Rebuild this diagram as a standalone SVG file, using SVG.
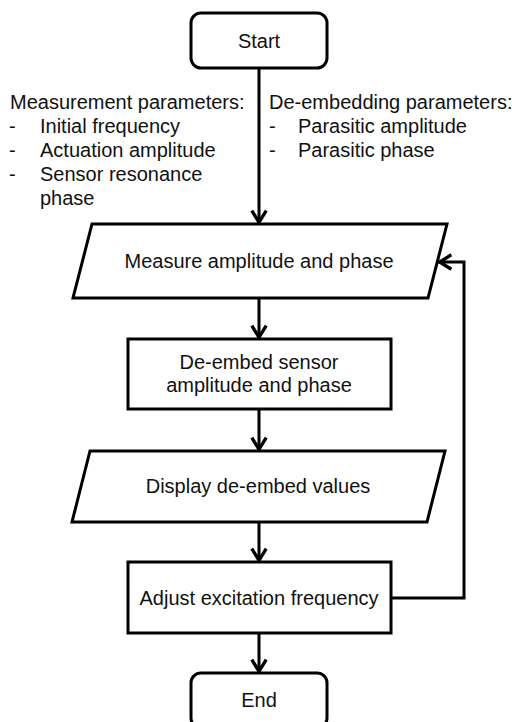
<svg xmlns="http://www.w3.org/2000/svg" width="512" height="722" viewBox="0 0 512 722">
<defs>
<style>
.shape{fill:#fff;stroke:#000;stroke-width:3;stroke-linejoin:miter}
.t{font-family:"Liberation Sans",Arial,sans-serif;font-size:20px;fill:#111}
.c{text-anchor:middle}
.conn{fill:none;stroke:#000;stroke-width:3}
</style>
<marker id="arr" markerUnits="userSpaceOnUse" markerWidth="20" markerHeight="20" viewBox="-14 -9 16 18" refX="0" refY="0" orient="auto">
<path d="M-12,-6.5 L-1.5,0 L-12,6.5" fill="none" stroke="#000" stroke-width="3"/>
</marker>
</defs>
<rect width="512" height="722" fill="#fff"/>

<g id="connectors">
<line class="conn" x1="259" y1="68" x2="259" y2="224" marker-end="url(#arr)"/>
<line class="conn" x1="259" y1="298" x2="259" y2="339" marker-end="url(#arr)"/>
<line class="conn" x1="259" y1="409" x2="259" y2="451" marker-end="url(#arr)"/>
<line class="conn" x1="259" y1="522" x2="259" y2="562" marker-end="url(#arr)"/>
<line class="conn" x1="259" y1="633" x2="259" y2="673" marker-end="url(#arr)"/>
<polyline class="conn" points="391,598 464,598 464,262 438,262" marker-end="url(#arr)"/>
</g>

<g id="params-measurement">
<text class="t" x="10" y="109">Measurement parameters:</text>
<text class="t" x="9" y="133">-</text><text class="t" x="40" y="133">Initial frequency</text>
<text class="t" x="9" y="157">-</text><text class="t" x="40" y="157">Actuation amplitude</text>
<text class="t" x="9" y="181">-</text><text class="t" x="40" y="181">Sensor resonance</text>
<text class="t" x="40" y="205">phase</text>
</g>

<g id="params-deembedding">
<text class="t" x="269" y="109">De-embedding parameters:</text>
<text class="t" x="269" y="133">-</text><text class="t" x="298" y="133">Parasitic amplitude</text>
<text class="t" x="269" y="157">-</text><text class="t" x="298" y="157">Parasitic phase</text>
</g>

<g id="start">
<rect class="shape" x="191" y="13" width="136" height="55" rx="10"/>
<text class="t c" x="259" y="47.5">Start</text>
</g>

<g id="measure">
<polygon class="shape" points="92,224 447,224 428,298 73,298"/>
<text class="t c" x="259" y="268">Measure amplitude and phase</text>
</g>

<g id="deembed">
<rect class="shape" x="128" y="339" width="263" height="70"/>
<text class="t c" x="259" y="369">De-embed sensor</text>
<text class="t c" x="259" y="392">amplitude and phase</text>
</g>

<g id="display">
<polygon class="shape" points="90,451 445,451 427,522 72,522"/>
<text class="t c" x="258" y="493">Display de-embed values</text>
</g>

<g id="adjust">
<rect class="shape" x="128" y="562" width="263" height="71"/>
<text class="t c" x="259" y="605">Adjust excitation frequency</text>
</g>

<g id="end">
<rect class="shape" x="191" y="673" width="136" height="55" rx="10"/>
<text class="t c" x="259" y="707">End</text>
</g>
</svg>
